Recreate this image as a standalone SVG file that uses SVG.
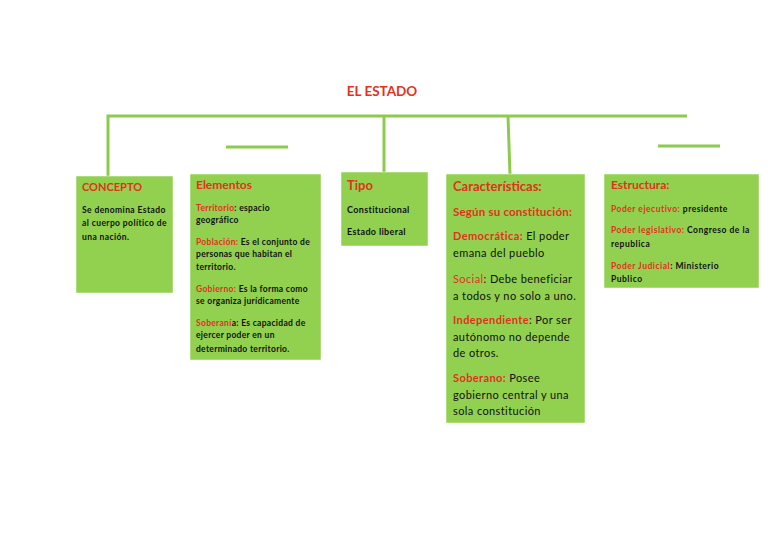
<svg xmlns="http://www.w3.org/2000/svg" width="768" height="543" viewBox="0 0 768 543">
<style>
.box{fill:#92D050;stroke:#fff;stroke-width:0.5}
.ln{stroke:#8CCB4D;stroke-width:3;fill:none}
text{font-family:Lato,"Open Sans","Liberation Sans",sans-serif;fill:#111}
.r{fill:#E3311A}
.h{font-weight:bold;fill:#E3311A}
.b{font-weight:bold}
</style>
<rect width="768" height="543" fill="#fff"/>
<text x="382" y="96" text-anchor="middle" class="h" font-size="13.5">EL ESTADO</text>
<g id="connectors">
<path class="ln" d="M108,176 V116 H687"/>
<path class="ln" d="M384,116 V173"/>
<path class="ln" d="M508,116 L510,175"/>
<path class="ln" d="M226,147 H288"/>
<path class="ln" d="M658,146 H720"/>
</g>
<g id="concepto">
<rect class="box" x="76" y="176" width="97" height="117"/>
<text x="82" y="191" class="h" font-size="11">CONCEPTO</text>
<g class="b" font-size="8.5" letter-spacing="0.4">
<text x="82" y="213">Se denomina Estado</text>
<text x="82" y="226">al cuerpo político de</text>
<text x="82" y="240">una nación.</text>
</g>
</g>
<g id="elementos">
<rect class="box" x="190" y="174" width="131" height="186"/>
<text x="196" y="189" class="h" font-size="12">Elementos</text>
<g class="b" font-size="8.5" letter-spacing="0.3">
<text x="196" y="211"><tspan class="r">Territorio</tspan>: espacio</text>
<text x="196" y="223">geográfico</text>
<text x="196" y="245"><tspan class="r">Población:</tspan> Es el conjunto de</text>
<text x="196" y="257">personas que habitan el</text>
<text x="196" y="270">territorio.</text>
<text x="196" y="292"><tspan class="r">Gobierno:</tspan> Es la forma como</text>
<text x="196" y="304">se organiza jurídicamente</text>
<text x="196" y="326"><tspan class="r">Soberaní</tspan>a: Es capacidad de</text>
<text x="196" y="338">ejercer poder en un</text>
<text x="196" y="352">determinado territorio.</text>
</g>
</g>
<g id="tipo">
<rect class="box" x="341" y="172" width="87" height="74"/>
<text x="347" y="190" class="h" font-size="13">Tipo</text>
<g class="b" font-size="9" letter-spacing="0.35">
<text x="347" y="213">Constitucional</text>
<text x="347" y="235">Estado liberal</text>
</g>
</g>
<g id="caracteristicas">
<rect class="box" x="446" y="174" width="139" height="249"/>
<text x="453" y="191" class="h" font-size="13">Características:</text>
<text x="453" y="216" class="h" font-size="11.5" letter-spacing="0.2">Según su constitución:</text>
<g font-size="11" letter-spacing="0.4">
<text x="453" y="240"><tspan class="h">Democrática:</tspan> El poder</text>
<text x="453" y="257">emana del pueblo</text>
<text x="453" y="283"><tspan class="r">Social</tspan>: Debe beneficiar</text>
<text x="453" y="300">a todos y no solo a uno.</text>
<text x="453" y="324"><tspan class="h">Independiente</tspan>: Por ser</text>
<text x="453" y="341">autónomo no depende</text>
<text x="453" y="357">de otros.</text>
<text x="453" y="382"><tspan class="h">Soberano:</tspan> Posee</text>
<text x="453" y="399">gobierno central y una</text>
<text x="453" y="415">sola constitución</text>
</g>
</g>
<g id="estructura">
<rect class="box" x="604" y="174" width="155" height="114"/>
<text x="611" y="189" class="h" font-size="12">Estructura:</text>
<g class="b" font-size="8.5" letter-spacing="0.5">
<text x="611" y="212"><tspan class="r">Poder ejecutivo:</tspan> presidente</text>
<text x="611" y="233"><tspan class="r">Poder legislativo:</tspan> Congreso de la</text>
<text x="611" y="247">republica</text>
<text x="611" y="269"><tspan class="r">Poder Judicial</tspan>: Ministerio</text>
<text x="611" y="282">Publico</text>
</g>
</g>
</svg>
